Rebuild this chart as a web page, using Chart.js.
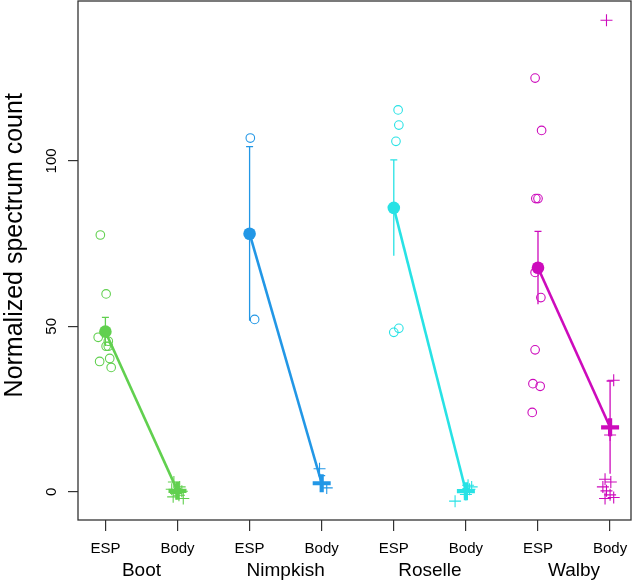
<!DOCTYPE html>
<html>
<head>
<meta charset="utf-8">
<script src="https://cdn.jsdelivr.net/npm/chart.js@4"></script>
<style>
html,body{margin:0;padding:0;background:#fff;}
#wrap{width:636px;height:580px;}
</style>
</head>
<body>
<div id="wrap"><canvas id="c" width="636" height="580"></canvas></div>
<script>
// ---- data ----
const groups = ['Boot', 'Nimpkish', 'Roselle', 'Walby'];
const subLabels = ['ESP', 'Body', 'ESP', 'Body', 'ESP', 'Body', 'ESP', 'Body'];
const yTicks = [0, 50, 100];
const yTitle = 'Normalized spectrum count';

// individual observations (values) and their jittered x-offsets (in category units)
const bootEsp = [77.6, 59.8, 46.7, 45.5, 44.0, 44.0, 40.3, 39.4, 37.6];
const bootEspJit = [-0.07, 0.01, -0.10, 0.04, 0.01, 0.04, 0.06, -0.08, 0.08];
const bootBody = [3.0, 1.5, 0.8, 0.2, -0.5, -1.0, -1.5, -2.0, 0.5];
const bootBodyJit = [-0.05, 0.03, -0.08, 0.06, -0.02, 0.02, -0.06, 0.08, 0.0];

const nimpEsp = [106.9, 52.1];
const nimpEspJit = [0.01, 0.07];
const nimpBody = [7.0, 1.2];
const nimpBodyJit = [-0.03, 0.07];

const roseEsp = [115.4, 110.8, 105.9, 49.4, 48.2];
const roseEspJit = [0.06, 0.07, 0.03, 0.07, 0.0];
const roseBody = [-2.8, 0.0, 0.8, 1.5, 2.0, -0.8];
const roseBodyJit = [-0.15, -0.02, 0.05, 0.08, 0.03, 0.0];

const walbyEsp = [125.0, 109.2, 88.6, 88.6, 66.3, 58.7, 42.9, 32.7, 31.9, 24.0];
const walbyEspJit = [-0.04, 0.05, -0.03, 0.0, -0.04, 0.04, -0.04, -0.07, 0.03, -0.08];
const walbyBody = [142.5, 33.7, 17.2, 3.8, 3.0, 1.5, 0.3, -0.9, -1.7, -2.0];
const walbyBodyJit = [-0.05, 0.05, 0.0, -0.07, 0.01, -0.1, -0.05, 0.0, 0.05, -0.07];

// group means and standard errors
const espMeans = [48.4, 78.0, 85.8, 67.7];
const espSE = [4.3, 26.3, 14.5, 11.0];
const bodyMeans = [0.3, 2.6, 0.2, 19.5];
const bodySE = [0.7, 2.3, 0.8, 14.0];

// ---- styling ----
const colors = ['#61D04F', '#2297E6', '#28E2E5', '#CD0BBC'];
const FONT = "'Liberation Sans', Arial, Helvetica, sans-serif";
Chart.defaults.font.family = FONT;
Chart.defaults.color = '#000';

const espSets = [[bootEsp, bootEspJit], [nimpEsp, nimpEspJit], [roseEsp, roseEspJit], [walbyEsp, walbyEspJit]];
const bodySets = [[bootBody, bootBodyJit], [nimpBody, nimpBodyJit], [roseBody, roseBodyJit], [walbyBody, walbyBodyJit]];

const datasets = [];
groups.forEach((g, i) => {
  const xE = 2 * i + 1, xB = 2 * i + 2;
  const col = colors[i];
  datasets.push({
    type: 'scatter', label: g + ' ESP',
    data: espSets[i][0].map((v, k) => ({x: xE + espSets[i][1][k], y: v})),
    pointStyle: 'circle', pointRadius: 4.3, borderColor: col, backgroundColor: 'rgba(0,0,0,0)',
    pointBorderWidth: 1.1, order: 3
  });
  datasets.push({
    type: 'scatter', label: g + ' Body',
    data: bodySets[i][0].map((v, k) => ({x: xB + bodySets[i][1][k], y: v})),
    pointStyle: 'cross', pointRadius: 6, borderColor: col, backgroundColor: col,
    pointBorderWidth: 1.1, order: 3
  });
  datasets.push({
    type: 'line', label: g + ' mean line',
    data: [{x: xE, y: espMeans[i]}, {x: xB, y: bodyMeans[i]}],
    borderColor: col, borderWidth: 2.6, pointRadius: 0, fill: false, order: 1
  });
  datasets.push({
    type: 'scatter', label: g + ' ESP mean',
    data: [{x: xE, y: espMeans[i]}],
    pointStyle: 'circle', pointRadius: 6.3, borderColor: col, backgroundColor: col,
    pointBorderWidth: 0, order: 0
  });
  datasets.push({
    type: 'scatter', label: g + ' Body mean',
    data: [{x: xB, y: bodyMeans[i]}],
    pointStyle: 'cross', pointRadius: 9, borderColor: col, backgroundColor: col,
    pointBorderWidth: 4.2, order: 0
  });
});

const errorBars = {
  id: 'errorBars',
  beforeDatasetsDraw(chart) {
    const {ctx, scales: {x, y}} = chart;
    ctx.save();
    ctx.lineWidth = 1.3;
    groups.forEach((g, i) => {
      [[2 * i + 1, espMeans[i], espSE[i]], [2 * i + 2, bodyMeans[i], bodySE[i]]].forEach(([xv, m, se]) => {
        const px = x.getPixelForValue(xv);
        const top = y.getPixelForValue(m + se), bot = y.getPixelForValue(m - se);
        ctx.strokeStyle = colors[i];
        ctx.beginPath();
        ctx.moveTo(px, bot); ctx.lineTo(px, top);
        ctx.moveTo(px - 3.5, top); ctx.lineTo(px + 3.5, top);
        ctx.stroke();
      });
    });
    ctx.restore();
  }
};

const frameAndYLabels = {
  id: 'frameAndYLabels',
  afterDraw(chart) {
    const {ctx, chartArea: a, scales: {y}} = chart;
    ctx.save();
    ctx.strokeStyle = '#333';
    ctx.lineWidth = 1.3;
    ctx.strokeRect(a.left, a.top, a.right - a.left, a.bottom - a.top);
    ctx.fillStyle = '#000';
    ctx.textAlign = 'center';
    ctx.textBaseline = 'middle';
    ctx.font = '15px ' + FONT;
    yTicks.forEach(t => {
      const py = y.getPixelForValue(t);
      ctx.save();
      ctx.translate(52, py);
      ctx.rotate(-Math.PI / 2);
      ctx.fillText(String(t), 0, 0);
      ctx.restore();
    });
    // axis title
    ctx.font = '25px ' + FONT;
    ctx.save();
    ctx.translate(15, y.getPixelForValue(74.5));
    ctx.rotate(-Math.PI / 2);
    ctx.fillText(yTitle, 0, 0);
    ctx.restore();
    ctx.restore();
  }
};

const zeroPad = s => { s.paddingLeft = 0; s.paddingRight = 0; s.paddingTop = 0; s.paddingBottom = 0; };

new Chart(document.getElementById('c'), {
  type: 'scatter',
  data: {datasets},
  options: {
    responsive: false,
    animation: false,
    layout: {autoPadding: false, padding: {top: 1, right: 5, left: 0, bottom: 0}},
    plugins: {legend: {display: false}, tooltip: {enabled: false}},
    scales: {
      x: {
        type: 'linear', position: 'bottom', min: 0.62, max: 8.29,
        afterBuildTicks: s => { s.ticks = subLabels.map((l, i) => ({value: i + 1})); },
        afterFit: s => { s.height = 38; zeroPad(s); },
        ticks: {
          callback: (v, i) => subLabels[i], autoSkip: false, maxRotation: 0, minRotation: 0,
          font: {size: 15}, color: '#000', padding: 9
        },
        grid: {drawOnChartArea: false, drawTicks: true, tickLength: 11, color: '#333', lineWidth: 1.2},
        border: {display: false}
      },
      x2: {
        type: 'linear', position: 'bottom', min: 0.62, max: 8.29,
        afterBuildTicks: s => { s.ticks = groups.map((g, i) => ({value: 2 * i + 1.5})); },
        afterFit: s => { s.height = 22; zeroPad(s); },
        ticks: {
          callback: (v, i) => groups[i], autoSkip: false, maxRotation: 0, minRotation: 0,
          font: {size: 19}, color: '#000', padding: 1
        },
        grid: {display: false, drawTicks: false},
        border: {display: false}
      },
      y: {
        type: 'linear', min: -8.5, max: 148.3,
        afterBuildTicks: s => { s.ticks = yTicks.map(v => ({value: v})); },
        afterFit: s => { s.width = 78; zeroPad(s); },
        ticks: {display: false},
        grid: {drawOnChartArea: false, drawTicks: true, tickLength: 10, color: '#333', lineWidth: 1.2},
        border: {display: false}
      }
    }
  },
  plugins: [errorBars, frameAndYLabels]
});
</script>
</body>
</html>
